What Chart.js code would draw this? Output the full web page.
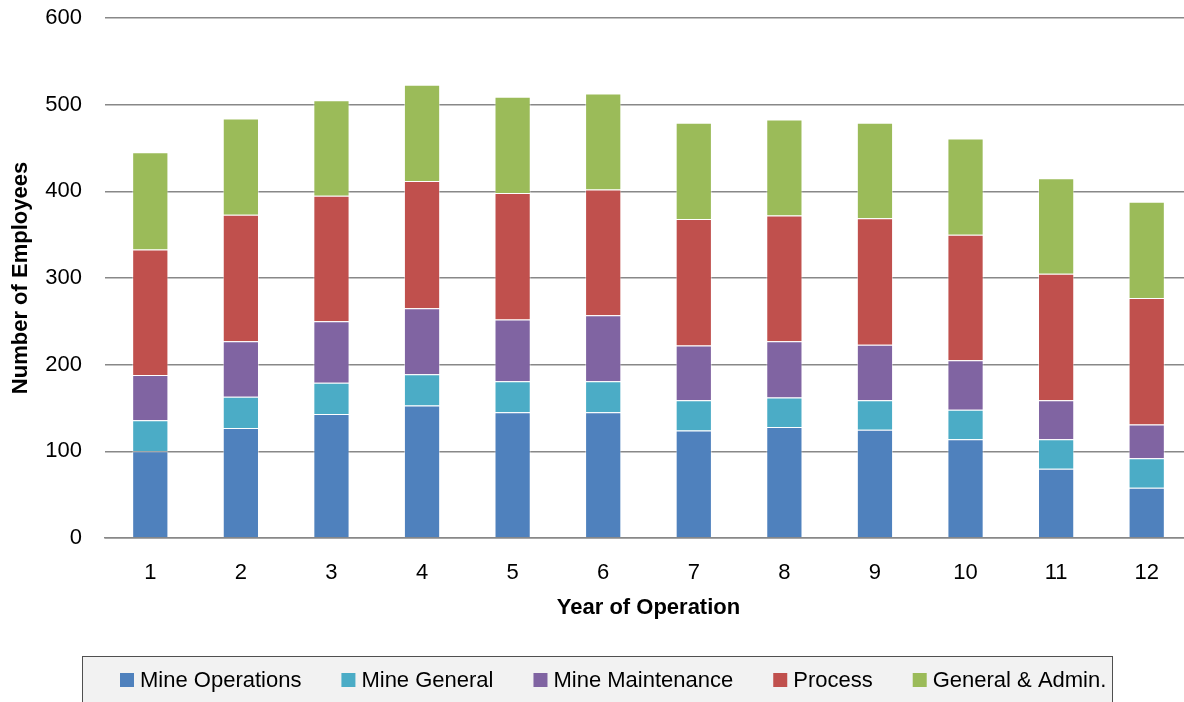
<!DOCTYPE html>
<html>
<head>
<meta charset="utf-8">
<script src="https://cdn.jsdelivr.net/npm/chart.js@4/dist/chart.umd.min.js"></script>
<style>
  html, body { margin: 0; padding: 0; background: #fff; overflow: hidden; }
  #wrap { width: 1184px; height: 702px; overflow: hidden; }
</style>
</head>
<body>
<div id="wrap"><canvas id="staffChart" width="1200" height="702"></canvas></div>
<script>
const years = ['1', '2', '3', '4', '5', '6', '7', '8', '9', '10', '11', '12'];
const mineOperations = [100, 127, 143, 153, 145, 145, 124, 128, 125, 114, 80, 58];
const mineGeneral = [36, 36, 36, 36, 36, 36, 35, 34, 34, 34, 34, 34];
const mineMaintenance = [52, 64, 71, 76, 71, 76, 63, 65, 64, 57, 45, 39];
const process = [145, 146, 145, 147, 146, 145, 146, 145, 146, 145, 146, 146];
const generalAdmin = [112, 111, 110, 111, 111, 111, 111, 111, 110, 111, 110, 111];
const yTicks = [0, 100, 200, 300, 400, 500, 600];

const FONT = "'Liberation Sans', Arial, sans-serif";

// boxed legend strip under the axis title
const boxLegend = {
  id: 'boxLegend',
  afterDraw(chart) {
    const ctx = chart.ctx;
    const box = { left: 82, top: 656, right: 1113, bottom: 712 };
    ctx.save();
    ctx.fillStyle = '#f2f2f2';
    ctx.fillRect(box.left, box.top, box.right - box.left, box.bottom - box.top);
    ctx.strokeStyle = '#505050';
    ctx.lineWidth = 1;
    ctx.strokeRect(box.left + 0.5, box.top + 0.5, box.right - box.left - 1, box.bottom - box.top);

    ctx.font = '22px ' + FONT;
    ctx.textBaseline = 'middle';
    const sq = 14, gapText = 6, gapItem = 40;
    let x = 120;
    const cy = 680;
    chart.data.datasets.forEach(ds => {
      const w = ctx.measureText(ds.label).width;
      ctx.fillStyle = ds.backgroundColor;
      ctx.fillRect(x, cy - sq / 2, sq, sq);
      ctx.fillStyle = '#000';
      ctx.fillText(ds.label, x + sq + gapText, cy + 1);
      x += sq + gapText + w + gapItem;
    });
    ctx.restore();
  }
};

const seg = (label, data, color) => ({
  label,
  data,
  backgroundColor: color,
  borderColor: 'rgba(255,255,255,0.45)',
  borderWidth: 1,
  barPercentage: 0.4,
  categoryPercentage: 1
});

new Chart(document.getElementById('staffChart'), {
  type: 'bar',
  data: {
    labels: years,
    datasets: [
      seg('Mine Operations', mineOperations, '#4f81bd'),
      seg('Mine General', mineGeneral, '#4bacc6'),
      seg('Mine Maintenance', mineMaintenance, '#8064a2'),
      seg('Process', process, '#c0504d'),
      seg('General & Admin.', generalAdmin, '#9bbb59')
    ]
  },
  options: {
    responsive: false,
    animation: false,
    devicePixelRatio: 1,
    layout: { padding: { top: 18, right: 8, bottom: 80, left: 0 } },
    plugins: {
      legend: { display: false },
      tooltip: { enabled: false }
    },
    scales: {
      x: {
        stacked: true,
        grid: { display: false },
        border: { display: true, color: '#888', width: 1.5 },
        ticks: { color: '#000', font: { family: FONT, size: 22 }, padding: 14, maxRotation: 0 },
        title: { display: true, text: 'Year of Operation', color: '#000', font: { family: FONT, size: 22, weight: 'bold' }, padding: { top: 0, bottom: 1 } },
        afterFit(scale) { scale.height = 84; scale.paddingLeft = 0; scale.paddingRight = 0; }
      },
      y: {
        stacked: true,
        min: 0,
        max: 600,
        afterBuildTicks(scale) { scale.ticks = yTicks.map(v => ({ value: v })); },
        grid: { color: '#888', lineWidth: 1.5, drawTicks: false },
        border: { display: false },
        ticks: { color: '#000', font: { family: FONT, size: 22 }, padding: 23 },
        title: { display: true, text: 'Number of Employees', color: '#000', font: { family: FONT, size: 22, weight: 'bold' }, padding: { top: 8, bottom: 0 } },
        afterFit(scale) { scale.width = 105; scale.paddingTop = 0; scale.paddingBottom = 0; }
      }
    }
  },
  plugins: [boxLegend]
});
</script>
</body>
</html>
